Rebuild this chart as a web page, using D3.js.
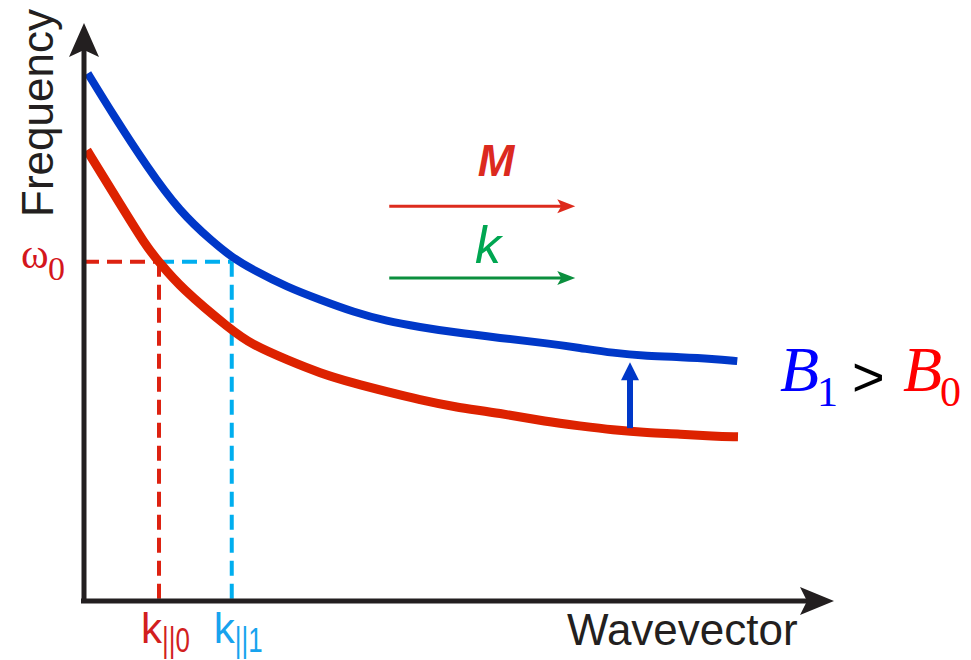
<!DOCTYPE html>
<html>
<head>
<meta charset="utf-8">
<script src="https://cdn.jsdelivr.net/npm/d3@7"></script>
<style>
  html, body { margin: 0; padding: 0; background: #fff; }
  svg { display: block; }
</style>
</head>
<body>
<div id="chart"></div>
<script>
// dispersion curves (wavevector, frequency) in arbitrary units
const waveB1 = [0.05, 0.39, 0.84, 1.28, 1.72, 1.97, 2.25, 2.71, 3.15, 3.59, 4.04, 4.48, 4.92, 5.55, 6.17, 6.61, 7.05, 7.51, 7.95, 8.39, 8.71];
const freqB1 = [9.13, 8.41, 7.51, 6.73, 6.21, 5.95, 5.73, 5.43, 5.21, 5.00, 4.84, 4.74, 4.65, 4.55, 4.46, 4.38, 4.29, 4.24, 4.22, 4.19, 4.15];
const waveB0 = [0.04, 0.39, 0.84, 1.00, 1.28, 1.97, 2.25, 2.71, 3.15, 3.59, 4.04, 4.48, 4.92, 5.55, 6.17, 6.61, 7.05, 7.51, 7.95, 8.39, 8.72];
const freqB0 = [7.80, 7.06, 6.11, 5.87, 5.43, 4.68, 4.43, 4.17, 3.94, 3.77, 3.62, 3.48, 3.36, 3.25, 3.10, 3.03, 2.96, 2.91, 2.89, 2.85, 2.84];

// marked points
const omega0 = 5.87;
const kPar0 = 1.0;
const kPar1 = 1.97;
const shiftAt = 7.28;          // where the B0 -> B1 arrow sits
const shiftFrom = 2.99, shiftTo = 4.13;

// vector arrows M and k
const vecStart = 4.07, vecEnd = 6.55;
const vecM = 6.83, vecK = 5.59;

const axisMax = { x: 10, y: 10 };

const width = 971, height = 660;
const origin = { x: 84, y: 601 };

const x = d3.scaleLinear().domain([0, axisMax.x]).range([origin.x, 834]);
const y = d3.scaleLinear().domain([0, axisMax.y]).range([origin.y, 23]);

const svg = d3.select('#chart').append('svg')
  .attr('width', width)
  .attr('height', height);

const axisColor = '#231f20';
const sans = '"Liberation Sans", Arial, sans-serif';
const serif = '"Liberation Serif", "Times New Roman", serif';

// concave arrowhead, tip at (tx,ty), pointing along angle (deg)
function arrowHead(tx, ty, len, half, notch, angle, color) {
  svg.append('path')
    .attr('d', `M0,0 L${-len},${-half} L${-len + notch},0 L${-len},${half} Z`)
    .attr('transform', `translate(${tx},${ty}) rotate(${angle})`)
    .attr('fill', color);
}

// dashed guides
const lineGen = d3.line().x(d => x(d[0])).y(d => y(d[1]));
function dashed(pts, color) {
  svg.append('path')
    .attr('d', lineGen(pts))
    .attr('fill', 'none')
    .attr('stroke', color)
    .attr('stroke-width', 4)
    .attr('stroke-dasharray', '15 8');
}
dashed([[0, omega0], [kPar0, omega0]], '#dd2211');
dashed([[kPar0, omega0], [kPar1, omega0]], '#00aeef');
dashed([[kPar0, omega0], [kPar0, 0]], '#dd2211');
dashed([[kPar1, omega0], [kPar1, 0]], '#00aeef');

// curves (smoothed through the read points)
const curve = d3.line()
  .x(d => x(d[0]))
  .y(d => y(d[1]))
  .curve(d3.curveBasis);

svg.append('path')
  .datum(d3.zip(waveB0, freqB0))
  .attr('d', curve)
  .attr('fill', 'none')
  .attr('stroke', '#dd2200')
  .attr('stroke-width', 9);

svg.append('path')
  .datum(d3.zip(waveB1, freqB1))
  .attr('d', curve)
  .attr('fill', 'none')
  .attr('stroke', '#0038c8')
  .attr('stroke-width', 8);

// axes
svg.append('line')
  .attr('x1', x(0)).attr('y1', y(0) + 2)
  .attr('x2', x(0)).attr('y2', y(axisMax.y) + 20)
  .attr('stroke', axisColor).attr('stroke-width', 5);
arrowHead(x(0), y(axisMax.y), 34, 15, 7, -90, axisColor);

svg.append('line')
  .attr('x1', x(0) - 3).attr('y1', y(0))
  .attr('x2', x(axisMax.x) - 20).attr('y2', y(0))
  .attr('stroke', axisColor).attr('stroke-width', 5);
arrowHead(x(axisMax.x), y(0), 34, 14, 7, 0, axisColor);

// shift arrow
svg.append('line')
  .attr('x1', x(shiftAt)).attr('y1', y(shiftFrom))
  .attr('x2', x(shiftAt)).attr('y2', y(shiftTo) + 14)
  .attr('stroke', '#0038c8').attr('stroke-width', 6);
arrowHead(x(shiftAt), y(shiftTo), 18, 9, 0, -90, '#0038c8');

// M and k arrows
svg.append('line')
  .attr('x1', x(vecStart)).attr('y1', y(vecM))
  .attr('x2', x(vecEnd) - 12).attr('y2', y(vecM))
  .attr('stroke', '#dd2b1d').attr('stroke-width', 3);
arrowHead(x(vecEnd), y(vecM), 18, 7, 4, 0, '#dd2b1d');

svg.append('line')
  .attr('x1', x(vecStart)).attr('y1', y(vecK))
  .attr('x2', x(vecEnd) - 12).attr('y2', y(vecK))
  .attr('stroke', '#0b8f3e').attr('stroke-width', 3);
arrowHead(x(vecEnd), y(vecK), 18, 7, 4, 0, '#0b8f3e');

svg.append('text')
  .attr('x', 496).attr('y', 176)
  .attr('text-anchor', 'middle')
  .attr('font-family', sans).attr('font-size', 44)
  .attr('font-weight', 'bold').attr('font-style', 'italic')
  .attr('fill', '#dc2a1f')
  .text('M');

svg.append('text')
  .attr('x', 488).attr('y', 263)
  .attr('text-anchor', 'middle')
  .attr('font-family', sans).attr('font-size', 52)
  .attr('font-style', 'italic')
  .attr('fill', '#00a651')
  .text('k');

// axis titles
svg.append('text')
  .attr('transform', 'translate(53,217) rotate(-90)')
  .attr('font-family', sans).attr('font-size', 44)
  .attr('fill', axisColor)
  .text('Frequency');

svg.append('text')
  .attr('x', 567).attr('y', 645)
  .attr('font-family', sans).attr('font-size', 44)
  .attr('fill', axisColor)
  .text('Wavevector');

// omega_0 label
svg.append('text')
  .attr('x', 21).attr('y', y(omega0) + 6)
  .attr('font-family', serif).attr('font-size', 42)
  .attr('fill', '#d4161c')
  .text('ω');
svg.append('text')
  .attr('x', 48).attr('y', y(omega0) + 18)
  .attr('font-family', serif).attr('font-size', 34)
  .attr('fill', '#d4161c')
  .text('0');

// k|| labels
function kLabel(kv, sub, color) {
  const g = svg.append('g').attr('fill', color).attr('font-family', sans);
  g.append('text')
    .attr('x', x(kv) - 18).attr('y', 643)
    .attr('font-size', 42)
    .text('k');
  g.append('text')
    .attr('transform', `translate(${x(kv) + 3},652) scale(0.72,1)`)
    .attr('font-size', 36)
    .text(sub);
}
kLabel(kPar0, '||0', '#d21f1f');
kLabel(kPar1, '||1', '#17a3ee');

// B1 > B0
svg.append('text')
  .attr('x', 780).attr('y', 391)
  .attr('font-family', serif).attr('font-size', 64)
  .attr('font-style', 'italic').attr('fill', '#0000ff')
  .text('B');
svg.append('text')
  .attr('x', 817).attr('y', 406)
  .attr('font-family', serif).attr('font-size', 42)
  .attr('fill', '#0000ff')
  .text('1');
svg.append('text')
  .attr('x', 852).attr('y', 396)
  .attr('font-family', sans).attr('font-size', 56)
  .attr('fill', '#000')
  .text('>');
svg.append('text')
  .attr('x', 903).attr('y', 391)
  .attr('font-family', serif).attr('font-size', 64)
  .attr('font-style', 'italic').attr('fill', '#ff0000')
  .text('B');
svg.append('text')
  .attr('x', 940).attr('y', 406)
  .attr('font-family', serif).attr('font-size', 42)
  .attr('fill', '#ff0000')
  .text('0');
</script>
</body>
</html>
